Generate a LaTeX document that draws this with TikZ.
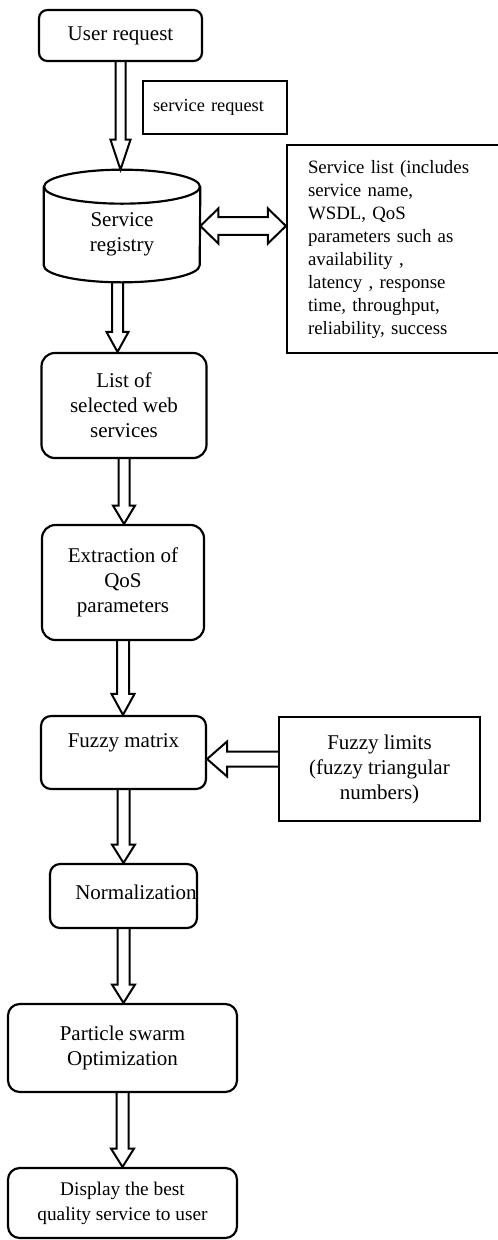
\documentclass[tikz,border=0pt]{standalone}
\usepackage{fontspec}
\setmainfont{Liberation Serif}
\usetikzlibrary{calc}

\tikzset{
  flowbox/.style={draw, line width=1.3pt, rounded corners=6pt, align=center, font=\fontsize{12.6}{15}\selectfont},
  plainbox/.style={draw, line width=1.3pt, align=center, font=\fontsize{12.6}{15}\selectfont},
  blockline/.style={draw, line width=1.2pt},
}

% hollow block arrow: shaft half width, head half width, head length, from, to
\newcommand{\blockarrow}[5]{%
  \coordinate (ba-s) at (#4);
  \coordinate (ba-t) at (#5);
  \coordinate (ba-h) at ($(ba-t)!#3!(ba-s)$);
  \draw[blockline] ($(ba-s)!#1!90:(ba-t)$) -- ($(ba-h)!#1!90:(ba-t)$) -- ($(ba-h)!#2!90:(ba-t)$) -- (ba-t)
    -- ($(ba-h)!#2!-90:(ba-t)$) -- ($(ba-h)!#1!-90:(ba-t)$) -- ($(ba-s)!#1!-90:(ba-t)$);
}
% same, with a head at both ends
\newcommand{\dblblockarrow}[5]{%
  \coordinate (ba-s) at (#4);
  \coordinate (ba-t) at (#5);
  \coordinate (ba-h1) at ($(ba-s)!#3!(ba-t)$);
  \coordinate (ba-h2) at ($(ba-t)!#3!(ba-s)$);
  \draw[blockline] (ba-s) -- ($(ba-h1)!#2!90:(ba-t)$) -- ($(ba-h1)!#1!90:(ba-t)$) -- ($(ba-h2)!#1!90:(ba-t)$)
    -- ($(ba-h2)!#2!90:(ba-t)$) -- (ba-t) -- ($(ba-h2)!#2!-90:(ba-t)$) -- ($(ba-h2)!#1!-90:(ba-t)$)
    -- ($(ba-h1)!#1!-90:(ba-t)$) -- ($(ba-h1)!#2!-90:(ba-t)$) -- cycle;
}

\begin{document}
\begin{tikzpicture}[x=0.6pt, y=-0.6pt]
\useasboundingbox (0,0) rectangle (497,1240);

% Request and registry
\node (user) [flowbox, minimum width=97.8pt, minimum height=30.6pt, rounded corners=5pt] at (120.5,35.5) {User request};
\node (sreq) [plainbox, minimum width=86.4pt, minimum height=31.8pt, text width=74.4pt, inner xsep=6pt, align=left, font=\fontsize{11}{13}\selectfont] at (215,107.5) {service request};

\node (reg) [minimum width=93.6pt, minimum height=67.2pt] at (122,226) {}; % cylinder outline drawn below
\draw[line width=1.3pt] ([yshift=-10.2pt]reg.north) ellipse [x radius=46.8pt, y radius=10.2pt];
\draw[line width=1.3pt] ([yshift=-10.2pt]reg.north west) -- ([yshift=10.2pt]reg.south west)
  arc[start angle=180, end angle=360, x radius=46.8pt, y radius=10.2pt] -- ([yshift=-10.2pt]reg.north east);
\node (regtext) [font=\fontsize{12.6}{15}\selectfont, align=center] at (122,234) {Service\\registry};

\node (slist) [plainbox, minimum width=127.2pt, minimum height=124.8pt, text width=102pt, inner xsep=12.6pt, align=left, font=\fontsize{11.3}{13.8}\selectfont] at (393,249)
  {Service list (includes\\service name,\\WSDL, QoS\\parameters such as\\availability ,\\latency , response\\time, throughput,\\reliability, success};

% Processing steps
\node (list) [flowbox, minimum width=99pt, minimum height=63pt, rounded corners=8pt] at (124,405.5) {List of\\selected web\\services};
\node (extr) [flowbox, minimum width=97.2pt, minimum height=69pt, rounded corners=8pt] at (123,582.5) {Extraction of\\QoS\\parameters};
\node (fmat) [flowbox, minimum width=99pt, minimum height=43.8pt, text depth=14.2pt] at (123.5,752.5) {Fuzzy matrix};
\node (flim) [plainbox, minimum width=120.6pt, minimum height=62.4pt] at (379.5,769) {Fuzzy limits\\(fuzzy triangular\\numbers)};
\node (norm) [flowbox, minimum width=88.2pt, minimum height=38.4pt] at (123.5,896) {};
\begin{scope}
  \clip (norm.north west) rectangle (norm.south east);
  \node (normtext) [anchor=west, inner sep=0pt, font=\fontsize{12.6}{15}\selectfont] at (75,892) {Normalization};
\end{scope}
\node (pso) [flowbox, minimum width=137.4pt, minimum height=52.8pt, rounded corners=7pt] at (122.5,1048) {Particle swarm\\Optimization};
\node (disp) [flowbox, minimum width=137.4pt, minimum height=42pt, rounded corners=7pt, font=\fontsize{11.6}{15}\selectfont] at (122.5,1203) {Display the best\\quality service to user};

% Block arrows
\coordinate (regout) at ([xshift=-2.7pt]reg.south);
\coordinate (limout) at ([yshift=6pt]flim.west);
\blockarrow{3pt}{6pt}{18pt}{user.south}{user.south |- reg.north}
\dblblockarrow{5.3pt}{10.5pt}{10.8pt}{reg.east}{reg.east -| slist.west}
\blockarrow{3.3pt}{6.6pt}{12pt}{regout}{regout |- list.north}
\blockarrow{3.3pt}{6.6pt}{11pt}{list.south}{list.south |- extr.north}
\blockarrow{3.6pt}{6.9pt}{12.6pt}{extr.south}{extr.south |- fmat.north}
\blockarrow{4.5pt}{10.5pt}{12pt}{limout}{limout -| fmat.east}
\blockarrow{3.6pt}{6.9pt}{11pt}{fmat.south}{fmat.south |- norm.north}
\blockarrow{3.6pt}{6.9pt}{11pt}{norm.south}{norm.south |- pso.north}
\blockarrow{3.6pt}{6.9pt}{11pt}{pso.south}{pso.south |- disp.north}

\end{tikzpicture}
\end{document}
